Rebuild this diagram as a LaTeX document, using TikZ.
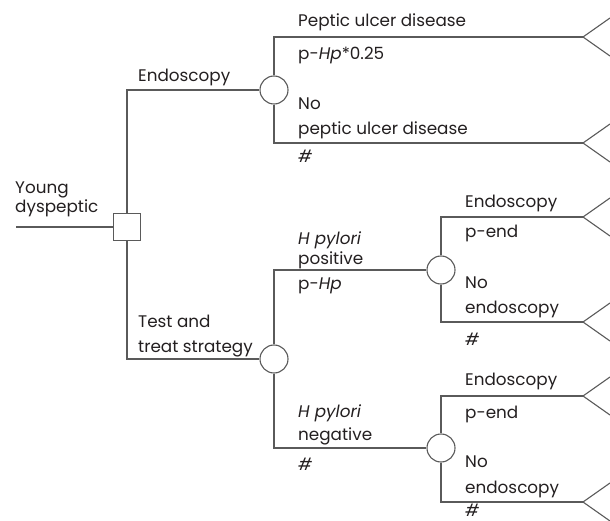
\documentclass[tikz,border=0pt]{standalone}
\usepackage{fontspec}
\setmainfont{Poppins}
\usetikzlibrary{positioning,calc}
\definecolor{linegray}{HTML}{5A5A5A}
\definecolor{inkgray}{HTML}{231F20}
\tikzset{
  branch/.style={draw=linegray, line width=1.1pt},
  chance/.style={circle, draw=linegray, line width=1.1pt, fill=white, minimum size=28pt, inner sep=0pt},
  choice/.style={rectangle, draw=linegray, line width=1.1pt, fill=white, minimum size=27pt, inner sep=0pt},
  lbl/.style={anchor=base west, inner sep=0pt, text=inkgray, font=\fontsize{16.8}{19}\selectfont}
}

\begin{document}
\begin{tikzpicture}[x=1pt,y=-1pt]
\useasboundingbox (0,0) rectangle (610,521);
\coordinate (start) at (16,227);
\node[choice] (dec) at (127,227) {};
\node[chance] (endo) at (274,90) {};
\node[chance] (treat) at (274,359) {};
\node[chance] (hppos) at (441,270) {};
\node[chance] (hpneg) at (441,448) {};
\coordinate (t1) at (583,37);
\coordinate (t2) at (583,143);
\coordinate (t3) at (583,217);
\coordinate (t4) at (583,322);
\coordinate (t5) at (583,396);
\coordinate (t6) at (583,502);
\draw[branch] (start) -- (dec.west);
\draw[branch] (dec.north) |- (endo.west);
\draw[branch] (dec.south) |- (treat.west);
\draw[branch] (endo.north) |- (t1);
\draw[branch] (endo.south) |- (t2);
\draw[branch] (treat.north) |- (hppos.west);
\draw[branch] (treat.south) |- (hpneg.west);
\draw[branch] (hppos.north) |- (t3);
\draw[branch] (hppos.south) |- (t4);
\draw[branch] (hpneg.north) |- (t5);
\draw[branch] (hpneg.south) |- (t6);
\foreach \t in {t1,t2,t3,t4,t5,t6}
  \draw[branch] ($(\t)+(27,-19)$) -- (\t) -- ($(\t)+(27,19)$);
\node[lbl] at (15,194) {Young};
\node[lbl] at (15,213) {dyspeptic};
\node[lbl] at (138,82) {Endoscopy};
\node[lbl] at (138,327) {Test and};
\node[lbl] at (138,352) {treat strategy};
\node[lbl] at (298,27) {Peptic ulcer disease};
\node[lbl] at (298,60) {p-\textit{Hp}*0.25};
\node[lbl] at (298,110) {No};
\node[lbl] at (298,135) {peptic ulcer disease};
\node[lbl] at (298,163) {\textit{\#}};
\node[lbl] at (298,245) {\textit{H pylori}};
\node[lbl] at (298,265) {positive};
\node[lbl] at (298,289) {p-\textit{Hp}};
\node[lbl] at (298,417) {\textit{H pylori}};
\node[lbl] at (298,440) {negative};
\node[lbl] at (298,470) {\textit{\#}};
\node[lbl] at (465,208) {Endoscopy};
\node[lbl] at (465,238) {p-end};
\node[lbl] at (465,288) {No};
\node[lbl] at (465,313) {endoscopy};
\node[lbl] at (465,345) {\textit{\#}};
\node[lbl] at (465,385) {Endoscopy};
\node[lbl] at (465,418) {p-end};
\node[lbl] at (465,467) {No};
\node[lbl] at (465,493) {endoscopy};
\node[lbl] at (465,516.5) {\textit{\#}};
\end{tikzpicture}
\end{document}
